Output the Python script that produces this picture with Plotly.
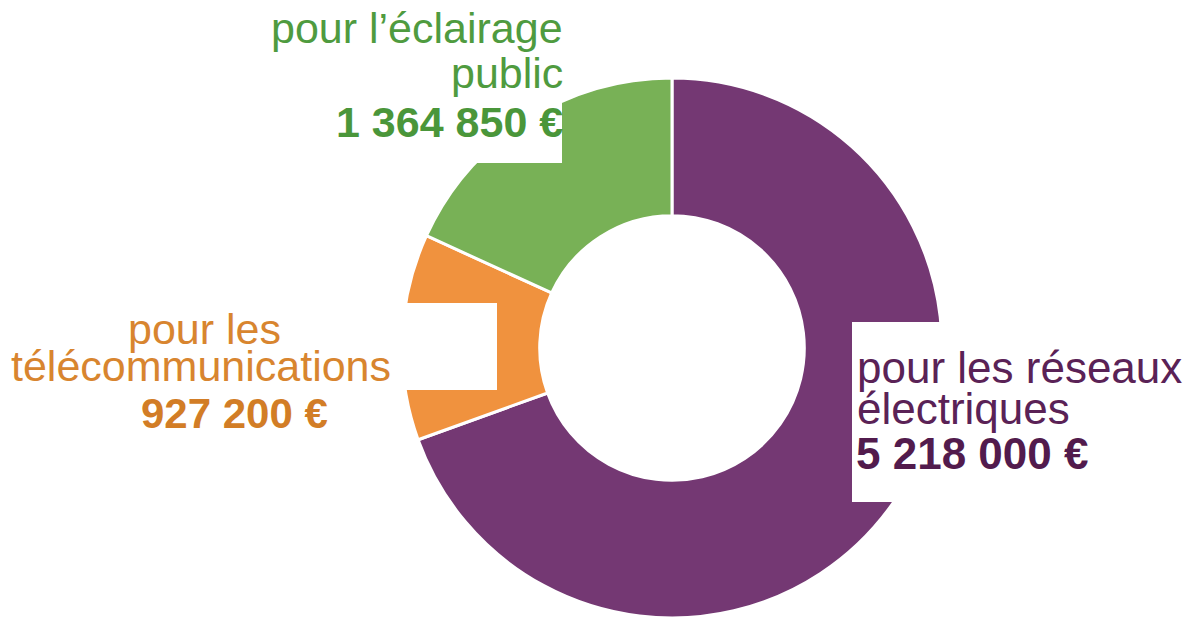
import plotly.graph_objects as go

# ---- data ----
categories = ["pour les réseaux électriques", "pour les télécommunications", "pour l’éclairage public"]
values = [5218000, 927200, 1364850]
label_lines = [["pour les réseaux", "électriques"], ["pour les", "télécommunications"], ["pour l’éclairage", "public"]]
slice_colors = ["#743873", "#f0923e", "#78b156"]
text_colors = ["#5a2256", "#d8852f", "#4f9b3f"]
value_colors = ["#521b4d", "#d27d26", "#4a963a"]

W, H = 1192, 621

def fx(px):
    return px / W

def fy(py):
    return 1 - py / H

fig = go.Figure()
fig.add_trace(go.Pie(
    labels=categories,
    values=values,
    hole=0.49,
    sort=False,
    direction="clockwise",
    rotation=0,
    marker=dict(colors=slice_colors, line=dict(color="#ffffff", width=3)),
    textinfo="none",
    hoverinfo="label+value",
    domain=dict(x=[fx(402), fx(942)], y=[fy(618), fy(78)]),
))

def fmt(v):
    return f"{v:,}".replace(",", " ") + " €"

# white label boxes (cover parts of the ring, as in the original)
boxes = [(852, 322, W + 5, 502), (-5, 303, 497, 390), (-5, -5, 562, 163)]
shapes = []
for x0, y0, x1, y1 in boxes:
    shapes.append(dict(type="rect", xref="paper", yref="paper", layer="above",
                       x0=fx(x0), x1=fx(x1), y0=fy(y1), y1=fy(y0),
                       fillcolor="#ffffff", line=dict(width=0)))

FONT = "Liberation Sans, Arial, sans-serif"
annotations = []

def add_line(text, x, baseline, xanchor, size, color, bold=False):
    ycen = baseline - 0.3465 * size
    t = f"<b>{text}</b>" if bold else text
    annotations.append(dict(text=t, x=fx(x), y=fy(ycen), xref="paper", yref="paper",
                            xanchor=xanchor, yanchor="middle", showarrow=False,
                            font=dict(family=FONT, size=size, color=color)))

# purple label (left aligned)
l0, l1 = label_lines[0]
add_line(l0, 855, 383, "left", 44, text_colors[0])
add_line(l1, 855, 424, "left", 44, text_colors[0])
add_line(fmt(values[0]), 854, 469, "left", 44, value_colors[0], bold=True)

# orange label (centered)
o0, o1 = label_lines[1]
add_line(o0, 205, 344, "center", 43, text_colors[1])
add_line(o1, 201, 381, "center", 43, text_colors[1])
add_line(fmt(values[1]), 234, 428, "center", 42, value_colors[1], bold=True)

# green label (right aligned)
g0, g1 = label_lines[2]
add_line(g0, 565, 43, "right", 43, text_colors[2])
add_line(g1, 565, 88, "right", 43, text_colors[2])
add_line(fmt(values[2]), 565, 137, "right", 43, value_colors[2], bold=True)

fig.update_layout(
    width=W, height=H,
    margin=dict(l=0, r=0, t=0, b=0),
    paper_bgcolor="#ffffff", plot_bgcolor="#ffffff",
    showlegend=False,
    shapes=shapes,
    annotations=annotations,
)

fig.write_html("out.html",
               config={"displayModeBar": False},
               post_script="document.body.style.margin='0';document.body.style.overflow='hidden';")
